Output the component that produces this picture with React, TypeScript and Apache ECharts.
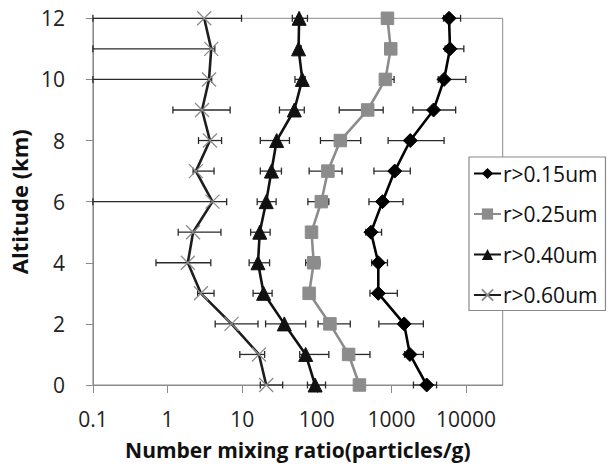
import React, { useEffect, useRef } from "react";
import * as echarts from "echarts";

const altitudes = [0, 1, 2, 3, 4, 5, 6, 7, 8, 9, 10, 11, 12];
const xTicks = [0.1, 1, 10, 100, 1000, 10000];

const r015 = [2970, 1770, 1480, 667, 667, 532, 760, 1107, 1790, 3670, 5080, 6100, 5920];
const r015Low = [1975, 1500, 679, 516, 543, 453, 500, 583, 903, 1940, 4240, 5250, 5000];
const r015High = [4030, 2680, 2680, 1200, 885, 738, 1430, 1790, 5080, 7260, 9930, 9340, 8450];

const r025 = [373, 267, 150, 79, 91, 85, 115, 141, 207, 481, 830, 980, 885];
const r025Low = [373, 240, 104, 79, 71, 85, 76, 79, 112, 200, 750, 980, 885];
const r025High = [373, 516, 281, 79, 110, 85, 145, 218, 388, 776, 1086, 980, 885];

const r040 = [95, 71, 36.7, 19.4, 16.3, 17.2, 21, 24.7, 29, 50, 64, 57, 58];
const r040Low = [75, 59, 20.6, 14, 12.4, 13, 15.9, 17.5, 17.5, 31.6, 51, 55, 47];
const r040High = [131, 145, 71, 25.2, 23.3, 23.7, 28.5, 33.6, 43, 68, 70, 62, 75];

const r060 = [21, 16.8, 7.2, 2.8, 1.87, 2.2, 4.0, 2.4, 3.7, 2.9, 3.6, 3.85, 3.1];
const r060Low = [17.5, 9.3, 4.35, 2.53, 0.7, 1.39, 0.1, 2.2, 2.6, 1.18, 0.1, 0.1, 0.1];
const r060High = [34.9, 20, 16.3, 4.2, 3.8, 5.2, 6.2, 4.2, 5.3, 6.9, 3.9, 4.3, 9.8];

const FONT = "'Open Sans', 'Liberation Sans', sans-serif";

function errorSeries(low: number[], high: number[]) {
  const data = altitudes.map((a, i) => [low[i], high[i], a]);
  return {
    type: "custom",
    z: 1,
    silent: true,
    data,
    encode: { x: [0, 1], y: 2 },
    renderItem: (params: any, api: any) => {
      const lo = api.value(0);
      const hi = api.value(1);
      const y = api.value(2);
      if (lo === hi) return null;
      const p1 = api.coord([lo, y]);
      const p2 = api.coord([hi, y]);
      const h = 3.5;
      const style = { stroke: "#2a2a2a", lineWidth: 1.3 };
      return {
        type: "group",
        children: [
          { type: "line", shape: { x1: p1[0], y1: p1[1], x2: p2[0], y2: p2[1] }, style },
          { type: "line", shape: { x1: p1[0], y1: p1[1] - h, x2: p1[0], y2: p1[1] + h }, style },
          { type: "line", shape: { x1: p2[0], y1: p2[1] - h, x2: p2[0], y2: p2[1] + h }, style },
        ],
      };
    },
  };
}

function lineSeries(name: string, values: number[], symbol: string, symbolSize: number, color: string, lineColor: string, extraItem: any = {}) {
  return {
    name,
    type: "line",
    z: 3,
    data: altitudes.map((a, i) => [values[i], a]),
    symbol,
    symbolSize,
    showAllSymbol: true,
    lineStyle: { color: lineColor, width: 2.6 },
    itemStyle: { color, borderColor: color, ...extraItem },
    emphasis: { disabled: true },
  };
}

export default function App() {
  const ref = useRef<HTMLDivElement>(null);
  useEffect(() => {
    if (!ref.current) return;
    const chart = echarts.init(ref.current, undefined, { renderer: "svg" });
    chart.setOption({
      animation: false,
      backgroundColor: "#ffffff",
      grid: {
        left: 88.7,
        right: 107.3,
        top: 18.3,
        bottom: 81,
        show: true,
        borderColor: "#8a8a8a",
        borderWidth: 1,
        backgroundColor: "transparent",
      },
      legend: {
        orient: "vertical",
        left: 469,
        top: 157,
        width: 136,
        padding: [6, 8, 5, 4],
        itemWidth: 27,
        itemHeight: 14,
        itemGap: 19.5,
        backgroundColor: "#ffffff",
        borderColor: "#8a8a8a",
        borderWidth: 1.2,
        z: 10,
        textStyle: { fontFamily: FONT, fontSize: 21, color: "#111", padding: [0, 0, 0, -3] },
        data: ["r>0.15um", "r>0.25um", "r>0.40um", "r>0.60um"],
      },
      xAxis: {
        type: "log",
        logBase: 10,
        min: 0.1,
        max: 31000,
        name: "Number mixing ratio(particles/g)",
        nameLocation: "middle",
        nameGap: 54,
        nameTextStyle: { fontFamily: FONT, fontSize: 21, fontWeight: "bold", color: "#111" },
        axisLine: { show: true, lineStyle: { color: "#8a8a8a", width: 1 } },
        axisTick: { show: true, inside: false, length: 8, lineStyle: { color: "#8a8a8a" } },
        splitLine: { show: false },
        minorTick: { show: false },
        axisLabel: {
          fontFamily: FONT,
          fontSize: 21,
          color: "#222",
          margin: 23,
          showMaxLabel: false,
          formatter: (v: number) => {
            const match = xTicks.find((t) => Math.abs(t - v) / t < 1e-6);
            return match !== undefined ? String(match) : "";
          },
        },
      },
      yAxis: {
        type: "value",
        min: 0,
        max: 12,
        interval: 2,
        name: "Altitude (km)",
        nameLocation: "middle",
        nameGap: 39,
        nameTextStyle: { fontFamily: FONT, fontSize: 22, fontWeight: "bold", color: "#111" },
        axisLine: { show: true, lineStyle: { color: "#8a8a8a", width: 1 } },
        axisTick: { show: true, inside: false, length: 7, lineStyle: { color: "#8a8a8a" } },
        splitLine: { show: false },
        axisLabel: { fontFamily: FONT, fontSize: 21, color: "#222", margin: 28 },
      },
      series: [
        errorSeries(r015Low, r015High),
        errorSeries(r025Low, r025High),
        errorSeries(r040Low, r040High),
        errorSeries(r060Low, r060High),
        lineSeries("r>0.15um", r015, "diamond", 14, "#000000", "#000000"),
        lineSeries("r>0.25um", r025, "rect", 12.5, "#8c8c8c", "#8c8c8c"),
        lineSeries("r>0.40um", r040, "triangle", 14, "#111111", "#111111"),
        lineSeries("r>0.60um", r060, "path://M0,0L10,10M0,10L10,0", 14, "#8c8c8c", "#1e1e1e", {
          color: "none",
          borderColor: "#8c8c8c",
          borderWidth: 1.3,
        }),
      ],
    });
    return () => chart.dispose();
  }, []);
  return (
    <div
      ref={ref}
      style={{ position: "absolute", left: 0, top: 0, width: 610, height: 466, overflow: "hidden" }}
    />
  );
}
